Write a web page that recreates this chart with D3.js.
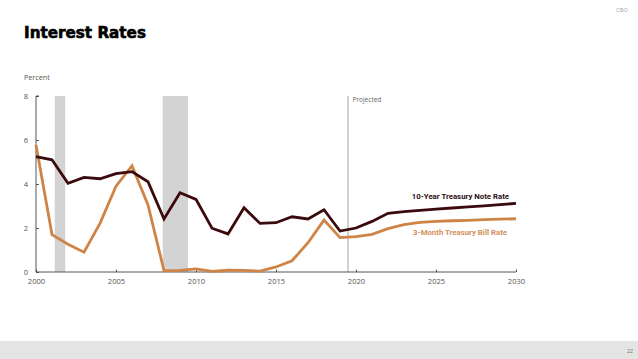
<!DOCTYPE html>
<html>
<head>
<meta charset="utf-8">
<script src="https://cdn.jsdelivr.net/npm/d3@7"></script>
<style>
  html, body { margin: 0; padding: 0; background: #fff; }
  svg { display: block; }
</style>
</head>
<body>
<svg id="chart" width="638" height="359"></svg>
<script>
const years = [2000,2001,2002,2003,2004,2005,2006,2007,2008,2009,2010,2011,2012,2013,2014,2015,2016,2017,2018,2019,2020,2021,2022,2023,2024,2025,2026,2027,2028,2029,2030];
const note10 = [5.24,5.1,4.03,4.3,4.24,4.47,4.56,4.1,2.41,3.6,3.3,1.99,1.73,2.92,2.21,2.24,2.51,2.41,2.83,1.86,2.0,2.3,2.67,2.74,2.8,2.86,2.91,2.96,3.01,3.06,3.12];
const bill3 = [5.77,1.7,1.26,0.9,2.21,3.9,4.83,3.05,0.06,0.07,0.14,0.03,0.08,0.07,0.04,0.23,0.51,1.33,2.36,1.56,1.61,1.71,1.97,2.15,2.26,2.3,2.33,2.35,2.38,2.4,2.42];
const recessions = [[2001.17, 2001.83], [2007.92, 2009.5]];
const projectedStart = 2019.5;
const xTicks = [2000, 2005, 2010, 2015, 2020, 2025, 2030];
const yTicks = [0, 2, 4, 6, 8];
const seriesNames = ["10-Year Treasury Note Rate", "3-Month Treasury Bill Rate"];

const svg = d3.select("#chart");
const x = d3.scaleLinear().domain([2000, 2030]).range([36, 516]);
const y = d3.scaleLinear().domain([0, 8]).range([272, 96]);

// footer band
svg.append("rect").attr("x", 0).attr("y", 341).attr("width", 638).attr("height", 18).attr("fill", "#e4e4e4");
svg.append("text").attr("x", 630).attr("y", 352.5).attr("text-anchor", "middle")
  .attr("font-family", "Liberation Sans, Arial, sans-serif").attr("font-size", 5.5).attr("fill", "#777").text("22");
svg.append("text").attr("x", 622).attr("y", 11.5).attr("text-anchor", "middle")
  .attr("font-family", "Liberation Sans, Arial, sans-serif").attr("font-size", 5.5).attr("fill", "#aaa").text("CBO");

// title
svg.append("text").attr("x", 24).attr("y", 37.7)
  .attr("font-family", "DejaVu Sans, sans-serif").attr("font-weight", "bold").attr("font-size", 15.2)
  .attr("fill", "#000").attr("stroke", "#000").attr("stroke-width", 0.6).text("Interest Rates");

svg.append("text").attr("x", 24).attr("y", 80)
  .attr("font-family", "Open Sans, sans-serif").attr("font-size", 7.2).attr("fill", "#555").text("Percent");

// recession bands
svg.selectAll("rect.rec").data(recessions).enter().append("rect")
  .attr("class", "rec")
  .attr("x", d => x(d[0])).attr("width", d => x(d[1]) - x(d[0]))
  .attr("y", y(8)).attr("height", y(0) - y(8)).attr("fill", "#d3d3d3");

// projected line
svg.append("line").attr("x1", x(projectedStart)).attr("x2", x(projectedStart))
  .attr("y1", y(8)).attr("y2", y(0)).attr("stroke", "#8a8a8a").attr("stroke-width", 0.8);
svg.append("text").attr("x", x(projectedStart) + 4.5).attr("y", 102)
  .attr("font-family", "Open Sans, sans-serif").attr("font-size", 6.5).attr("fill", "#666").text("Projected");

// axes
const yAxis = svg.append("g").attr("transform", `translate(${x(2000)},0)`)
  .call(d3.axisRight(y).tickValues(yTicks).tickSize(3).tickFormat(d3.format("d")));
yAxis.select(".domain").attr("stroke", "#444").attr("stroke-width", 0.9).attr("d", `M3,${y(8)}H0V${y(0)}`);
yAxis.selectAll(".tick line").attr("stroke", "#444").attr("stroke-width", 0.9);
yAxis.selectAll(".tick text").attr("text-anchor", "end").attr("x", -8)
  .attr("font-family", "Open Sans, sans-serif").attr("font-size", 7.6).attr("fill", "#555");

const xAxis = svg.append("g").attr("transform", `translate(0,${y(0)})`)
  .call(d3.axisTop(x).tickValues(xTicks).tickSize(2.5).tickFormat(d3.format("d")));
xAxis.select(".domain").attr("stroke", "#444").attr("stroke-width", 0.9).attr("d", `M${x(2000)},0H${x(2030)}`);
xAxis.selectAll(".tick line").attr("stroke", "#444").attr("stroke-width", 0.9);
xAxis.selectAll(".tick text").attr("y", 12.2)
  .attr("font-family", "Open Sans, sans-serif").attr("font-size", 7.6).attr("fill", "#555");

// lines
const line = d3.line().x((d, i) => x(years[i])).y(d => y(d));
svg.append("path").datum(bill3).attr("d", line).attr("fill", "none")
  .attr("stroke", "#cf8447").attr("stroke-width", 2.8).attr("stroke-linejoin", "miter");
svg.append("path").datum(note10).attr("d", line).attr("fill", "none")
  .attr("stroke", "#3a0a0c").attr("stroke-width", 2.8).attr("stroke-linejoin", "miter");

// series labels
svg.append("text").attr("x", 509).attr("y", 199).attr("text-anchor", "end")
  .attr("font-family", "Roboto, sans-serif").attr("font-weight", "bold").attr("font-size", 7.8)
  .attr("fill", "#2a1012").text(seriesNames[0]);
svg.append("text").attr("x", 507).attr("y", 235).attr("text-anchor", "end")
  .attr("font-family", "Roboto, sans-serif").attr("font-weight", "bold").attr("font-size", 7.8)
  .attr("fill", "#d3915c").text(seriesNames[1]);
</script>
</body>
</html>
